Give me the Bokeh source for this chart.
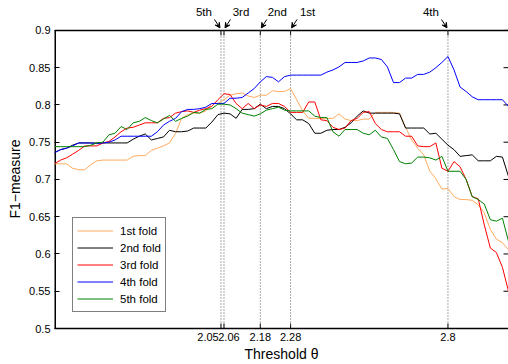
import numpy as np
from bokeh.plotting import figure
from bokeh.models import (Range1d, LinearAxis, FixedTicker, Legend, LegendItem,
                          Label, Arrow, VeeHead, ColumnDataSource, Title)
from bokeh.embed import file_html
from bokeh.resources import INLINE

# ---------------- data ----------------
thresholds = np.round(np.arange(1.50, 3.0001, 0.02), 2).tolist()

fold1 = [0.721, 0.721, 0.721, 0.715, 0.713, 0.713, 0.720, 0.725, 0.726, 0.726,
         0.726, 0.726, 0.726, 0.731, 0.732, 0.732, 0.739, 0.742, 0.745, 0.749,
         0.762, 0.782, 0.787, 0.789, 0.789, 0.792, 0.802, 0.802, 0.807, 0.813,
         0.815, 0.816, 0.812, 0.810, 0.813, 0.813, 0.819, 0.818, 0.818,
         0.822, 0.807, 0.792, 0.782, 0.782, 0.782, 0.782, 0.782, 0.788, 0.781,
         0.779, 0.779, 0.781, 0.781, 0.790, 0.790, 0.790, 0.790, 0.789, 0.770,
         0.753, 0.742, 0.733, 0.711, 0.701, 0.687, 0.688, 0.677, 0.673, 0.673,
         0.672, 0.666, 0.655, 0.633, 0.620, 0.615, 0.606]

fold2 = [0.736, 0.740, 0.742, 0.746, 0.749, 0.749, 0.749, 0.749, 0.749, 0.749,
         0.749, 0.749, 0.749, 0.754, 0.758, 0.761, 0.753, 0.755, 0.757, 0.766,
         0.764, 0.764, 0.765, 0.769, 0.769, 0.769, 0.777, 0.787, 0.789, 0.788,
         0.782, 0.794, 0.794, 0.795, 0.801, 0.795, 0.798, 0.798, 0.795,
         0.788, 0.780, 0.780, 0.775, 0.762, 0.762, 0.766, 0.767, 0.767, 0.770,
         0.776, 0.785, 0.792, 0.789, 0.789, 0.789, 0.789, 0.789, 0.788, 0.769,
         0.769, 0.769, 0.769, 0.761, 0.762, 0.754, 0.746, 0.740, 0.731, 0.732,
         0.733, 0.725, 0.725, 0.725, 0.731, 0.730, 0.704]

fold3 = [0.721, 0.726, 0.729, 0.734, 0.739, 0.745, 0.745, 0.745, 0.749, 0.751,
         0.757, 0.764, 0.769, 0.770, 0.773, 0.776, 0.776, 0.776, 0.782, 0.783,
         0.789, 0.791, 0.792, 0.790, 0.793, 0.795, 0.798, 0.807, 0.815, 0.814,
         0.802, 0.795, 0.802, 0.795, 0.800, 0.798, 0.802, 0.802, 0.798,
         0.790, 0.790, 0.790, 0.804, 0.804, 0.780, 0.779, 0.770, 0.767, 0.769,
         0.779, 0.782, 0.790, 0.791, 0.775, 0.767, 0.764, 0.764, 0.764, 0.758,
         0.758, 0.745, 0.744, 0.744, 0.749, 0.715, 0.711, 0.724, 0.717, 0.700,
         0.677, 0.674, 0.639, 0.608, 0.602, 0.582, 0.550]

fold4 = [0.736, 0.740, 0.742, 0.745, 0.749, 0.749, 0.749, 0.748, 0.749, 0.750,
         0.753, 0.758, 0.758, 0.758, 0.758, 0.758, 0.758, 0.764, 0.773, 0.778,
         0.782, 0.791, 0.794, 0.794, 0.795, 0.797, 0.802, 0.802, 0.802, 0.809,
         0.809, 0.810, 0.816, 0.822, 0.831, 0.838, 0.837, 0.831, 0.838,
         0.840, 0.840, 0.840, 0.840, 0.840, 0.840, 0.844, 0.847, 0.851, 0.857,
         0.857, 0.857, 0.859, 0.863, 0.863, 0.861, 0.851, 0.830, 0.830, 0.836,
         0.836, 0.841, 0.841, 0.844, 0.850, 0.857, 0.865, 0.847, 0.824, 0.818,
         0.811, 0.807, 0.807, 0.807, 0.807, 0.807, 0.798]

fold5 = [0.744, 0.744, 0.744, 0.744, 0.744, 0.744, 0.746, 0.749, 0.750, 0.760,
         0.762, 0.771, 0.767, 0.776, 0.778, 0.783, 0.779, 0.776, 0.781, 0.786,
         0.778, 0.782, 0.785, 0.790, 0.789, 0.794, 0.795, 0.801, 0.801, 0.800,
         0.795, 0.789, 0.787, 0.785, 0.788, 0.793, 0.795, 0.797, 0.793,
         0.792, 0.792, 0.792, 0.792, 0.785, 0.783, 0.783, 0.764, 0.758, 0.767,
         0.767, 0.767, 0.762, 0.760, 0.766, 0.757, 0.755, 0.740, 0.724, 0.721,
         0.722, 0.730, 0.730, 0.729, 0.726, 0.731, 0.711, 0.711, 0.711, 0.700,
         0.677, 0.673, 0.667, 0.646, 0.644, 0.648, 0.617]

folds = [fold1, fold2, fold3, fold4, fold5]
fold_names = ["1st fold", "2nd fold", "3rd fold", "4th fold", "5th fold"]
fold_short = ["1st", "2nd", "3rd", "4th", "5th"]
fold_colors = ["#FFAA5E", "#000000", "#FF0000", "#0000FF", "#008000"]
best_thresholds = [2.28, 2.18, 2.06, 2.80, 2.05]
arrow_side = [1, 1, 1, -1, -1]

x_tick_values = [2.05, 2.06, 2.18, 2.28, 2.8]
x_tick_labels = ["2.05", "2.06", "2.18", "2.28", "2.8"]
x_label_shift = [-13, 5, 0, 0, 0]      # screen px, to keep 2.05/2.06 side by side
y_tick_values = [0.5, 0.55, 0.6, 0.65, 0.7, 0.75, 0.8, 0.85, 0.9]

# ---------------- figure ----------------
FONT = "Liberation Sans"
W, H = 508, 364
BL, BR, BT, BB = 52, 0, 0, 35
X0, X1 = 1.5, 3.0
Y0, Y1 = 0.5, 0.9
TOP_PAD = 30                      # px above the 0.9 line kept for the annotations
px_x = (W - BL - BR) / (X1 - X0)
px_y = (H - BT - BB - TOP_PAD) / (Y1 - Y0)
Y_TOP = Y1 + TOP_PAD / px_y

p = figure(width=W, height=H, output_backend="svg", toolbar_location=None,
           x_range=Range1d(X0, X1), y_range=Range1d(Y0, Y_TOP),
           x_axis_location=None, y_axis_location=None,
           min_border_left=BL, min_border_right=BR,
           min_border_top=BT, min_border_bottom=BB)
p.grid.visible = False
p.outline_line_color = None
p.background_fill_color = "white"
p.border_fill_color = "white"


def base_axis(ax, ticks):
    ax.ticker = FixedTicker(ticks=ticks)
    ax.major_tick_in = 5
    ax.major_tick_out = 0
    ax.minor_tick_line_color = None
    ax.axis_line_width = 1.5
    ax.axis_line_color = "black"
    ax.major_tick_line_color = "black"
    ax.major_label_text_font = FONT
    ax.major_label_text_font_size = "11px"
    ax.major_label_text_color = "black"
    ax.axis_label_text_font = FONT
    ax.axis_label_text_font_size = "14px"
    ax.axis_label_text_font_style = "normal"
    ax.axis_label_text_color = "black"


# bottom axis: line + labels (tick marks drawn as glyphs below)
label_pos = [round(t + s / px_x, 4) for t, s in zip(x_tick_values, x_label_shift)]
bottom = LinearAxis()
base_axis(bottom, label_pos)
bottom.major_tick_line_color = None
bottom.major_label_overrides = dict(zip(label_pos, x_tick_labels))
bottom.major_label_standoff = 4
bottom.axis_label = "Threshold θ"
bottom.axis_label_standoff = 2
p.add_layout(bottom, "below")

left = LinearAxis()
base_axis(left, y_tick_values)
left.axis_line_color = None
left.major_label_overrides = {t: f"{t:g}" for t in y_tick_values}
left.major_label_standoff = 4
p.add_layout(left, "left")
p.add_layout(Title(text="F1\u2212measure", align="left", offset=110,
                   text_font=FONT, text_font_size="14px",
                   text_font_style="normal", text_color="black",
                   standoff=8), "left")

# box lines: left edge and top edge at 0.9 (frame extends above for annotations)
p.segment(x0=[X0], y0=[Y0], x1=[X0], y1=[Y1], line_color="black", line_width=3)
p.segment(x0=[X0], y0=[Y1], x1=[X1], y1=[Y1], line_color="black", line_width=1.5)
# inward x tick marks at bottom and top
tick_len_y = 5 / px_y
p.segment(x0=x_tick_values, y0=[Y0] * 5, x1=x_tick_values, y1=[Y0 + tick_len_y] * 5,
          line_color="black", line_width=1)
p.segment(x0=x_tick_values, y0=[Y1] * 5, x1=x_tick_values, y1=[Y1 - tick_len_y] * 5,
          line_color="black", line_width=1)
# inward y tick marks on the right edge (box edge itself lies at the image border)
tick_len_x = 5 / px_x
ny = len(y_tick_values)
p.segment(x0=[X1 - tick_len_x] * ny, y0=y_tick_values, x1=[X1] * ny, y1=y_tick_values,
          line_color="black", line_width=1)

# dotted verticals at best thresholds
vsrc = ColumnDataSource(dict(x=best_thresholds,
                             y0=[Y0] * len(best_thresholds),
                             y1=[Y1] * len(best_thresholds)))
p.segment(x0="x", y0="y0", x1="x", y1="y1", source=vsrc,
          line_color="#555555", line_width=1, line_dash="1 2")

# fold curves
items = []
for name, vals, col in zip(fold_names, folds, fold_colors):
    r = p.line(thresholds, vals, line_color=col, line_width=1)
    items.append(LegendItem(label=name, renderers=[r]))

legend = Legend(items=items, location=(18, 16))
legend.label_text_font = FONT
legend.label_text_font_size = "11.5px"
legend.label_text_color = "black"
legend.glyph_width = 36
legend.glyph_height = 17
legend.label_height = 17
legend.label_standoff = 7
legend.spacing = 0
legend.padding = 4
legend.margin = 0
legend.border_line_color = "black"
legend.border_line_width = 1
legend.background_fill_color = "white"
legend.background_fill_alpha = 1.0
p.add_layout(legend, "center")

# fold annotations with arrows above the 0.9 line
for thr, side, short in zip(best_thresholds, arrow_side, fold_short):
    p.add_layout(Label(x=thr, y=Y1, x_offset=side * 17, y_offset=18.5,
                       text=short, text_align="center", text_baseline="middle",
                       text_font=FONT, text_font_size="11.5px", text_color="black"))
    p.add_layout(Arrow(end=VeeHead(size=5, line_color="black", fill_color="black",
                                   line_width=1),
                       x_start=thr + side * 6.5 / px_x, y_start=Y1 + 11 / px_y,
                       x_end=thr + side * 1.0 / px_x, y_end=Y1 + 2.5 / px_y,
                       line_color="black", line_width=1))

open("out.html", "w").write(file_html(p, INLINE))
